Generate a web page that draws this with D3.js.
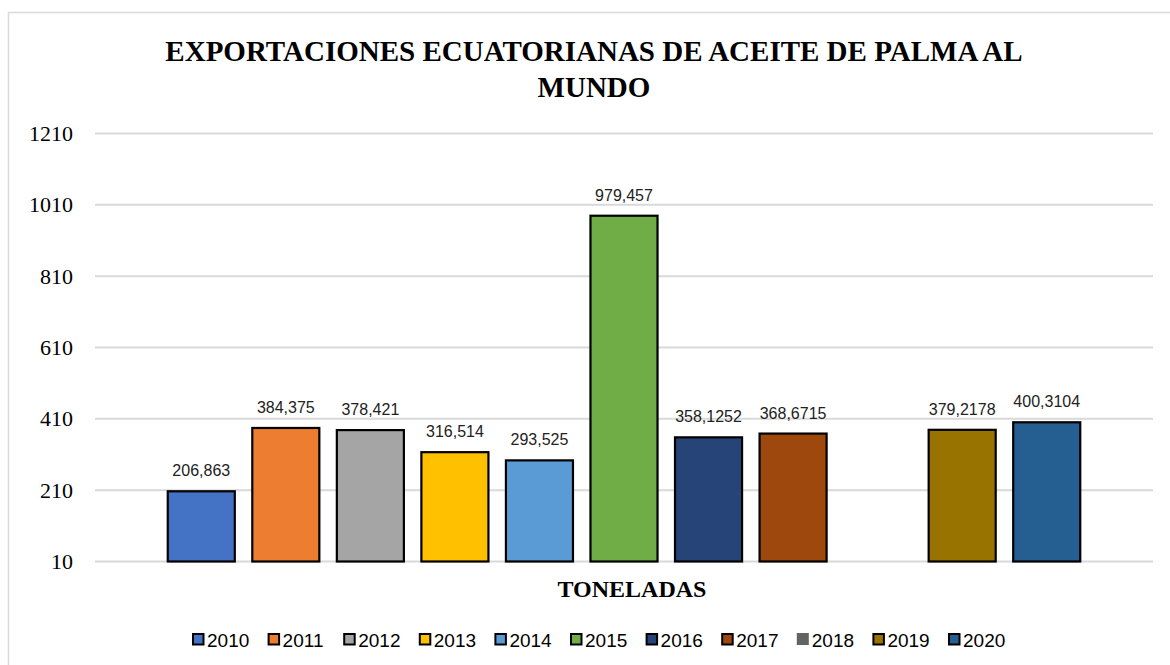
<!DOCTYPE html>
<html>
<head>
<meta charset="utf-8">
<script src="https://cdn.jsdelivr.net/npm/d3@7"></script>
<style>
  html, body { margin: 0; padding: 0; background: #fff; }
  svg { display: block; }
</style>
</head>
<body>
<svg id="chart" width="1170" height="665"></svg>
<script>
const years = ['2010', '2011', '2012', '2013', '2014', '2015', '2016', '2017', '2018', '2019', '2020']
const values = [206.863, 384.375, 378.421, 316.514, 293.525, 979.457, 358.1252, 368.6715, null, 379.2178, 400.3104]
const colors = ['#4472C4', '#ED7D31', '#A5A5A5', '#FFC000', '#5B9BD5', '#70AD47', '#264478', '#9E480E', '#636363', '#997300', '#255E91']
const yTicks = [10, 210, 410, 610, 810, 1010, 1210]
const titleLines = ['EXPORTACIONES ECUATORIANAS DE ACEITE DE PALMA AL', 'MUNDO']
const axisTitle = 'TONELADAS'

const svg = d3.select('#chart')
const serif = '"Liberation Serif", "Times New Roman", serif'
const sans = '"Liberation Sans", Arial, sans-serif'

// frame
svg.append('rect')
  .attr('x', 8.5).attr('y', 12.5)
  .attr('width', 1200).attr('height', 700)
  .attr('fill', '#fff').attr('stroke', '#d9d9d9').attr('stroke-width', 1.5)

const plotLeft = 95, plotRight = 1153
const y = d3.scaleLinear().domain([10, 1210]).range([561.5, 133.5])

const center = (plotLeft + plotRight) / 2
const x = d3.scaleBand()
  .domain(years)
  .range([center - 465, center + 465])
  .paddingInner(0.207)
  .paddingOuter(0.1035)

// gridlines
svg.append('g').selectAll('line')
  .data(yTicks).join('line')
  .attr('x1', plotLeft).attr('x2', plotRight)
  .attr('y1', d => y(d)).attr('y2', d => y(d))
  .attr('stroke', '#d9d9d9').attr('stroke-width', 2)

// y tick labels
svg.append('g').selectAll('text')
  .data(yTicks).join('text')
  .attr('x', 73).attr('y', d => y(d) + 7.5)
  .attr('text-anchor', 'end')
  .style('font-family', serif).style('font-size', '22px').attr('fill', '#000')
  .text(d => d)

const data = years.map((yr, i) => ({ year: yr, value: values[i], color: colors[i] }))
const withValue = data.filter(d => d.value != null)

// bars
svg.append('g').selectAll('rect')
  .data(withValue).join('rect')
  .attr('x', d => x(d.year))
  .attr('width', x.bandwidth())
  .attr('y', d => y(d.value))
  .attr('height', d => y(10) - y(d.value))
  .attr('fill', d => d.color)
  .attr('stroke', '#000').attr('stroke-width', 2.2)

// data labels
svg.append('g').selectAll('text')
  .data(withValue).join('text')
  .attr('x', d => x(d.year) + x.bandwidth() / 2)
  .attr('y', d => y(d.value) - 15)
  .attr('text-anchor', 'middle')
  .style('font-family', sans).style('font-size', '16px').attr('fill', '#222')
  .text(d => String(d.value).replace('.', ','))

// title
svg.append('g').selectAll('text')
  .data(titleLines).join('text')
  .attr('x', 594).attr('y', (d, i) => 61 + i * 36)
  .attr('text-anchor', 'middle')
  .style('font-family', serif).style('font-size', '29px').style('font-weight', 'bold')
  .attr('fill', '#000')
  .text(d => d)

// axis title
svg.append('text')
  .attr('x', center + 8).attr('y', 597)
  .attr('text-anchor', 'middle')
  .style('font-family', serif).style('font-size', '24px').style('font-weight', 'bold')
  .attr('fill', '#000')
  .text(axisTitle)

// legend
const legendStep = 75.6, legendX = 192, legendY = 633
const leg = svg.append('g').selectAll('g')
  .data(data).join('g')
  .attr('transform', (d, i) => `translate(${legendX + i * legendStep},${legendY})`)

leg.append('rect')
  .attr('x', d => d.value == null ? 0 : 1).attr('y', d => d.value == null ? 0 : 1)
  .attr('width', d => d.value == null ? 12 : 10.5)
  .attr('height', d => d.value == null ? 12 : 10.5)
  .attr('fill', d => d.color)
  .attr('stroke', d => d.value == null ? 'none' : '#000')
  .attr('stroke-width', 2)

leg.append('text')
  .attr('x', 15).attr('y', 13.5)
  .style('font-family', sans).style('font-size', '19px').attr('fill', '#000')
  .text(d => d.year)
</script>
</body>
</html>
